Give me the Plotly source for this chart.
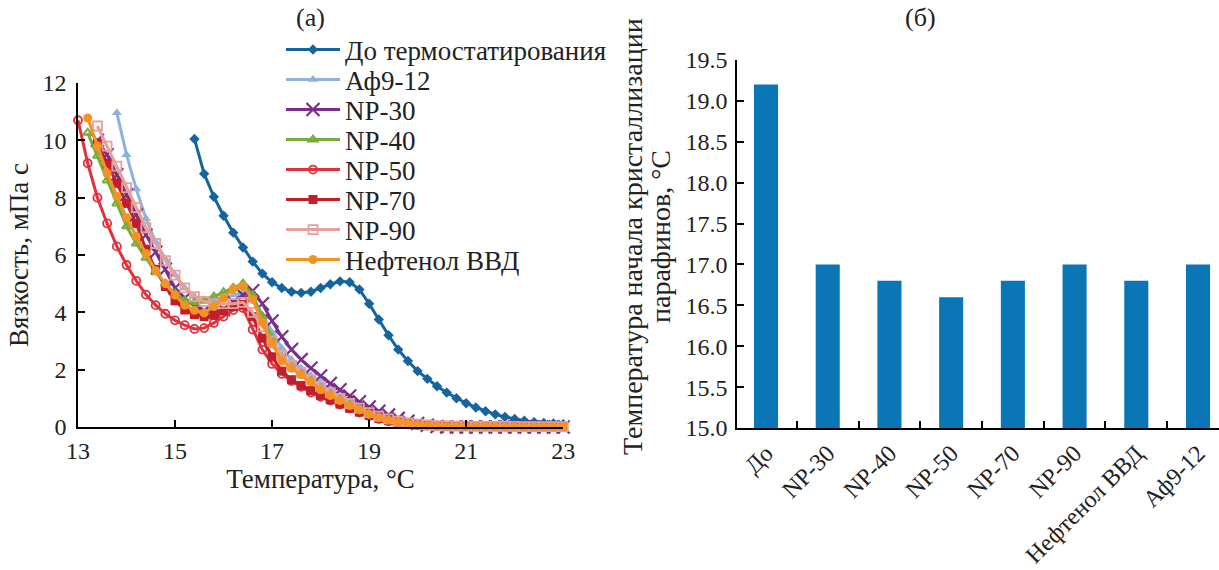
import plotly.graph_objects as go

# Temperature grid of the viscosity measurements, °C
TEMPS = [13.0, 13.2, 13.4, 13.6, 13.8, 14.0, 14.2, 14.4, 14.6, 14.8,
         15.0, 15.2, 15.4, 15.6, 15.8, 16.0, 16.2, 16.4, 16.6, 16.8,
         17.0, 17.2, 17.4, 17.6, 17.8, 18.0, 18.2, 18.4, 18.6, 18.8,
         19.0, 19.2, 19.4, 19.6, 19.8, 20.0, 20.2, 20.4, 20.6, 20.8,
         21.0, 21.2, 21.4, 21.6, 21.8, 22.0, 22.2, 22.4, 22.6, 22.8,
         23.0]

# Viscosity, mPa·s (each series ends at 23.0 °C)
visc_before = [10.05, 8.83, 8.03, 7.37, 6.78, 6.26, 5.77, 5.35, 5.05, 4.85,
               4.72, 4.68, 4.72, 4.85, 4.98, 5.08, 5.05, 4.8, 4.3, 3.75,
               3.2, 2.7, 2.3, 1.95, 1.68, 1.42, 1.2, 1.0, 0.83, 0.68,
               0.55, 0.44, 0.35, 0.28, 0.22, 0.17, 0.14, 0.12, 0.1]
visc_af912 = [10.96, 9.5, 8.3, 7.27, 6.45, 5.85, 5.3, 4.85, 4.55, 4.4,
              4.4, 4.5, 4.6, 4.7, 4.5, 3.9, 3.3, 2.75, 2.35, 2.05,
              1.8, 1.55, 1.32, 1.1, 0.9, 0.74, 0.58, 0.45, 0.35, 0.26,
              0.19, 0.14,
              0.1, 0.08, 0.06, 0.05, 0.04, 0.04, 0.03, 0.03, 0.03, 0.03,
              0.02, 0.02, 0.02, 0.02, 0.02]
visc_np30 = [10.0, 9.5, 8.8, 8.1, 7.4, 6.7, 6.1, 5.5, 4.85, 4.5,
             4.2, 4.05, 4.0, 4.1, 4.35, 4.6, 4.75, 4.3, 3.7, 3.15,
             2.7, 2.35, 2.05, 1.78, 1.52, 1.3, 1.08, 0.88, 0.7, 0.55,
             0.42, 0.3, 0.2, 0.12,
             0.06, 0.02, 0.0, 0.0, 0.0, 0.0, 0.0, 0.0, 0.0, 0.0,
             0.0, 0.0, 0.0, 0.0, 0.0]
visc_np40 = [10.26, 9.46, 8.6, 7.8, 7.0, 6.4, 5.9, 5.4, 5.0, 4.65,
             4.42, 4.35, 4.4, 4.55, 4.7, 4.85, 5.0, 4.6, 3.85, 3.1,
             2.45, 2.1, 1.85, 1.6, 1.35, 1.15, 0.95, 0.78, 0.62, 0.47,
             0.35, 0.26, 0.18, 0.12, 0.08,
             0.06, 0.05, 0.04, 0.03, 0.03, 0.02, 0.02, 0.02, 0.02, 0.01,
             0.01, 0.01, 0.01, 0.01, 0.01]
visc_np50 = [10.7, 9.2, 8.0, 7.1, 6.3, 5.65, 5.1, 4.62, 4.25, 3.95,
             3.72, 3.55, 3.42, 3.45, 3.63, 3.85, 4.08, 4.15, 3.4, 2.7,
             2.2, 1.85, 1.6, 1.4, 1.2, 1.05, 0.92, 0.78, 0.64, 0.5,
             0.38, 0.28, 0.2, 0.14, 0.09, 0.06,
             0.05, 0.04, 0.04, 0.03, 0.03, 0.03, 0.02, 0.02, 0.02, 0.02,
             0.02, 0.02, 0.02, 0.02, 0.02]
visc_np70 = [9.9, 9.2, 8.5, 7.8, 7.1, 6.2, 5.5, 4.9, 4.4, 4.08,
             3.92, 3.85, 3.9, 4.05, 4.2, 4.28, 3.85, 3.1, 2.45, 1.95,
             1.65, 1.45, 1.27, 1.1, 0.95, 0.8, 0.65, 0.52, 0.4, 0.3,
             0.22, 0.15, 0.1, 0.07,
             0.05, 0.04, 0.03, 0.03, 0.02, 0.02, 0.02, 0.02, 0.01, 0.01,
             0.01, 0.01, 0.01, 0.01, 0.01]
visc_np90 = [10.5, 9.8, 9.1, 8.35, 7.65, 6.95, 6.4, 5.8, 5.3, 4.85,
             4.55, 4.38, 4.3, 4.3, 4.3, 4.35, 4.0, 3.5, 3.0, 2.5,
             2.15, 1.9, 1.65, 1.42, 1.2, 1.0, 0.82, 0.66, 0.5, 0.38,
             0.28, 0.2, 0.14, 0.1,
             0.07, 0.05, 0.04, 0.03, 0.03, 0.02, 0.02, 0.02, 0.02, 0.02,
             0.01, 0.01, 0.01, 0.01, 0.01]
visc_neftenol = [10.78, 9.8, 8.85, 8.05, 7.3, 6.65, 6.05, 5.45, 5.0, 4.6,
                 4.25, 4.07, 3.98, 4.2, 4.5, 4.82, 4.92, 4.45, 3.65, 2.9,
                 2.3, 2.05, 1.82, 1.58, 1.3, 1.1, 0.92, 0.75, 0.6, 0.44,
                 0.33, 0.24, 0.17, 0.12, 0.08,
                 0.05, 0.04, 0.03, 0.03, 0.02, 0.02, 0.02, 0.01, 0.01, 0.01,
                 0.01, 0.01, 0.01, 0.01, 0.01]

# Wax appearance temperature, °C
bar_labels = ["До", "NP-30", "NP-40", "NP-50", "NP-70", "NP-90",
              "Нефтенол ВВД", "Аф9-12"]
bar_values = [19.2, 17.0, 16.8, 16.6, 16.8, 17.0, 16.8, 17.0]

FONT = "Liberation Serif"
TEXT = "#222222"

series = [
    ("До термостатирования", visc_before, "#14659f",
     dict(symbol="diamond", size=8)),
    ("Аф9-12", visc_af912, "#8db3dc",
     dict(symbol="triangle-up", size=9)),
    ("NP-30", visc_np30, "#7b2e8c",
     dict(symbol="x-thin-open", size=13, line=dict(width=2.2, color="#7b2e8c"))),
    ("NP-40", visc_np40, "#79ab3c",
     dict(symbol="triangle-up-open", size=8, line=dict(width=2, color="#79ab3c"))),
    ("NP-50", visc_np50, "#e0323c",
     dict(symbol="circle-open", size=8, line=dict(width=1.8, color="#e0323c"))),
    ("NP-70", visc_np70, "#c1202b",
     dict(symbol="square", size=9)),
    ("NP-90", visc_np90, "#e89f9b",
     dict(symbol="square-open", size=9, line=dict(width=1.8, color="#e89f9b"))),
    ("Нефтенол ВВД", visc_neftenol, "#f39324",
     dict(symbol="circle", size=9)),
]

# one single-entry legend per series, stacked as a column beside panel (а)
LEGEND_TOP_PX = 50.0
LEGEND_STEP_PX = 30.0
LEGEND_LEFT_PX = 281

fig = go.Figure()
legend_layouts = {}

for i, (name, vals, color, marker) in enumerate(series):
    marker = dict(marker)
    marker.setdefault("color", color)
    legend_id = "legend" if i == 0 else f"legend{i + 1}"
    fig.add_trace(go.Scatter(
        x=TEMPS[-len(vals):], y=vals, name=name, mode="lines+markers",
        line=dict(color=color, width=3), marker=marker,
        cliponaxis=False, legend=legend_id,
        xaxis="x", yaxis="y",
    ))
    y_px = LEGEND_TOP_PX + i * LEGEND_STEP_PX
    legend_layouts[legend_id] = dict(
        x=LEGEND_LEFT_PX / 1219, y=1 - y_px / 570,
        xanchor="left", yanchor="middle",
        font=dict(family=FONT, size=27, color=TEXT),
        bgcolor="rgba(0,0,0,0)", itemwidth=54,
        tracegroupgap=0,
    )

fig.add_trace(go.Bar(
    x=bar_labels, y=bar_values, marker=dict(color="#0b76b6", line=dict(width=0)),
    showlegend=False, xaxis="x2", yaxis="y2",
))

axis_common = dict(
    showline=True, linecolor="black", linewidth=1.5, showgrid=False,
    zeroline=False, ticks="inside", tickcolor="black", tickwidth=1.5,
    ticklen=7, tickfont=dict(family=FONT, size=24, color=TEXT),
    automargin=False,
)

fig.update_layout(
    width=1219, height=570,
    margin=dict(l=0, r=0, t=0, b=0, autoexpand=False),
    paper_bgcolor="white", plot_bgcolor="white",
    font=dict(family=FONT, color=TEXT),
    bargap=0.61,
    xaxis=dict(domain=[0.064, 0.462], range=[13, 23], tickvals=[13, 15, 17, 19, 21, 23],
               ticklabelstandoff=1,
               title=dict(text="Температура, °С", font=dict(family=FONT, size=27), standoff=2),
               anchor="y", **axis_common),
    yaxis=dict(domain=[0.2509, 0.8544], range=[0, 12], tickvals=[0, 2, 4, 6, 8, 10, 12],
               ticklabelstandoff=5,
               title=dict(text="Вязкость, мПа с", font=dict(family=FONT, size=27), standoff=6),
               anchor="x", **axis_common),
    xaxis2=dict(domain=[0.6046, 1.0], range=[-0.47, 7.34], type="category",
                tickson="boundaries", tickangle=-45, anchor="y2", **axis_common),
    yaxis2=dict(domain=[0.249, 0.8947], range=[15, 19.5], dtick=0.5, tickformat=".1f",
                ticklabelstandoff=3, anchor="x2", **axis_common),
    annotations=[
        dict(text="(а)", x=310 / 1219, y=1 - 18 / 570, xref="paper", yref="paper",
             xanchor="center", yanchor="middle", showarrow=False,
             font=dict(family=FONT, size=26)),
        dict(text="(б)", x=920 / 1219, y=1 - 18 / 570, xref="paper", yref="paper",
             xanchor="center", yanchor="middle", showarrow=False,
             font=dict(family=FONT, size=26)),
        # two-line title of the right-hand y axis
        dict(text="Температура начала кристаллизации", textangle=-90,
             x=633 / 1219, y=1 - 237 / 570, xref="paper", yref="paper",
             xanchor="center", yanchor="middle", showarrow=False,
             font=dict(family=FONT, size=28)),
        dict(text="парафинов, °С", textangle=-90,
             x=661 / 1219, y=1 - 237 / 570, xref="paper", yref="paper",
             xanchor="center", yanchor="middle", showarrow=False,
             font=dict(family=FONT, size=28)),
    ],
    **legend_layouts,
)

fig.write_html("out.html")
